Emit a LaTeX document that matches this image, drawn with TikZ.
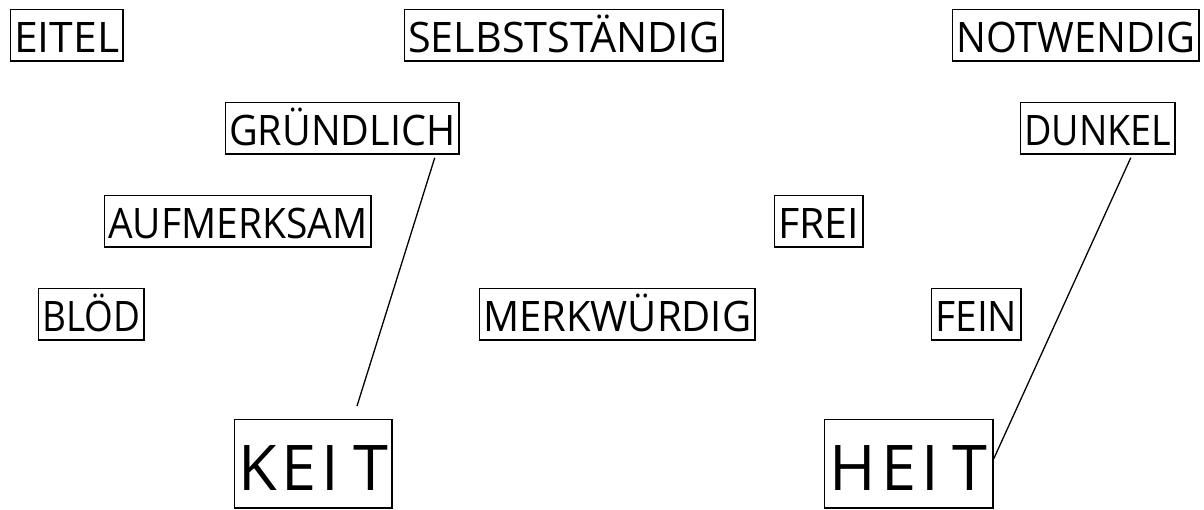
\documentclass[tikz,border=0pt]{standalone}
\usepackage{fontspec}
\usepackage{graphicx}
\setmainfont{Open Sans}
\newcommand\fitto[2]{\resizebox{#1}{\height}{#2}}
\begin{document}
\begin{tikzpicture}[x=1pt,y=-1pt,
  word/.style={draw,line width=1.5pt,anchor=north west,inner xsep=3pt,inner ysep=0pt,
    font=\fontsize{42}{42}\selectfont,text height=43pt,text depth=8.5pt,
    minimum width=#1},
  big/.style={draw,line width=1.5pt,anchor=north west,inner xsep=3pt,inner ysep=0pt,
    font=\fontsize{63}{63}\selectfont,text height=71pt,text depth=17.5pt,
    minimum width=#1},
  link/.style={line width=1.3pt}]
\useasboundingbox (0,0) rectangle (1204,509);
\node[word=112.5pt] (eitel) at (9.75,8.75) {\fitto{105pt}{EITEL}};
\node[word=318.5pt] (selb) at (403.75,8.75) {\fitto{311pt}{SELBSTSTÄNDIG}};
\node[word=246.5pt] (notw) at (951.75,8.75) {\fitto{239pt}{NOTWENDIG}};
\node[word=233.5pt] (gruend) at (224.75,101.75) {\fitto{226pt}{GRÜNDLICH}};
\node[word=154.5pt] (dunkel) at (1019.75,101.75) {\fitto{147pt}{DUNKEL}};
\node[word=266.5pt] (aufm) at (103.75,194.75) {\fitto{259pt}{AUFMERKSAM}};
\node[word=88.5pt] (frei) at (773.75,194.75) {\fitto{81pt}{FREI}};
\node[word=105.5pt] (bloed) at (37.75,287.75) {\fitto{98pt}{BLÖD}};
\node[word=275.5pt] (merk) at (478.75,287.75) {\fitto{268pt}{MERKWÜRDIG}};
\node[word=89.5pt] (fein) at (930.75,287.75) {\fitto{82pt}{FEIN}};
\node[big=157.5pt] (keit) at (233.75,418.75) {K\hspace{5pt}E\hspace{5pt}I\hspace{14pt}T};
\node[big=168.5pt] (heit) at (823.75,418.75) {H\hspace{5pt}E\hspace{5pt}I\hspace{14pt}T};
\coordinate (kend) at (357,406);
\draw[link] ([shift={(-25,3)}]gruend.south east) -- (kend);
\draw[link] ([shift={(-45,3)}]dunkel.south east) -- ([shift={(0,-5)}]heit.east);
\end{tikzpicture}
\end{document}
